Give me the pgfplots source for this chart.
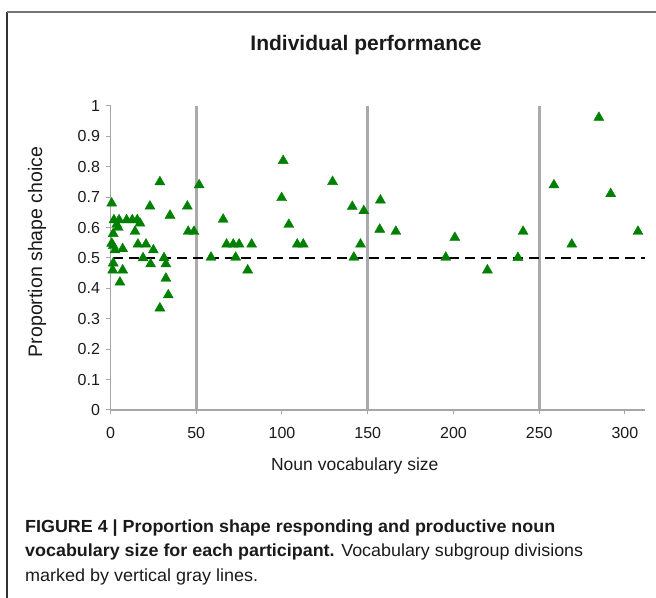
\documentclass[border=0pt]{standalone}
\usepackage{pgfplots}
\pgfplotsset{compat=1.18}
\usepackage{fontspec}
\setmainfont{Liberation Sans}
\usepackage{graphicx}
\definecolor{mkgreen}{HTML}{008000}
\definecolor{axgray}{HTML}{A6A6A6}
\definecolor{vgray}{HTML}{AAAAAA}
\definecolor{txt}{HTML}{1A1A1A}

\pgfplotstableread{
x y
0.7 0.68
1.6 0.58
0.7 0.548
1.6 0.54
2.6 0.526
1.6 0.483
1.3 0.46
5.5 0.42
7.1 0.46
7.1 0.53
2.0 0.625
5.0 0.625
3.6 0.61
4.5 0.60
9.4 0.625
12.7 0.625
15.6 0.625
17.2 0.614
14.3 0.587
16.0 0.545
20.7 0.545
25.0 0.526
19.0 0.50
23.4 0.48
23.0 0.67
28.8 0.75
34.7 0.64
31.2 0.50
32.3 0.48
32.3 0.433
33.7 0.378
28.8 0.335
44.8 0.67
45.3 0.587
48.7 0.587
51.7 0.74
58.6 0.502
65.7 0.627
67.7 0.545
71.6 0.545
75.0 0.545
73.0 0.502
82.3 0.545
80.0 0.46
100.7 0.82
99.8 0.698
104.0 0.61
108.9 0.545
112.4 0.545
129.5 0.751
141.0 0.669
147.7 0.655
145.8 0.545
141.9 0.502
157.4 0.69
157.0 0.594
166.4 0.587
195.5 0.502
200.8 0.567
219.8 0.46
240.6 0.587
237.6 0.501
258.6 0.74
269.0 0.545
284.8 0.962
291.7 0.711
307.6 0.587
}\datatable

\begin{document}
\begin{tikzpicture}
\useasboundingbox (0bp,0bp) rectangle (656bp,598bp);
\draw[line width=1.5bp, color=black!80] (7bp,0bp) -- (7bp,586bp);
\draw[line width=1.2bp, color=black!55] (7bp,586bp) -- (656bp,586bp);
\node[font=\fontsize{21bp}{24bp}\selectfont\bfseries, text=txt] at (366bp,553bp) {Individual performance};
\begin{axis}[
  at={(110.5bp,188bp)}, anchor=south west,
  scale only axis, width=534.5bp, height=304bp,
  xmin=0, xmax=311.7, ymin=0, ymax=1,
  axis x line*=bottom, axis y line*=left,
  axis line style={axgray, line width=1.2bp},
  xtick={0,50,100,150,200,250,300},
  ytick={0,0.1,0.2,0.3,0.4,0.5,0.6,0.7,0.8,0.9,1},
  tick style={axgray, line width=1bp},
  major tick length=4bp, tick align=outside,
  ticklabel style={font=\fontsize{16bp}{19bp}\selectfont, text=txt},
  /pgf/number format/assume math mode=true,
  xticklabel style={yshift=-10bp},
  yticklabel style={xshift=-3bp},
  xlabel={Noun vocabulary size},
  ylabel={Proportion shape choice},
  xlabel style={font=\fontsize{17.5bp}{20bp}\selectfont, text=txt, at={(axis description cs:0.457,-0.184)}, anchor=center},
  ylabel style={font=\fontsize{19.5bp}{22bp}\selectfont, text=txt, at={(axis description cs:-0.1375,0.52)}, anchor=center},
  clip=false,
]
\addplot[vgray, line width=3bp, forget plot] coordinates {(50,0) (50,1)};
\addplot[vgray, line width=3bp, forget plot] coordinates {(150,0) (150,1)};
\addplot[vgray, line width=3bp, forget plot] coordinates {(250,0) (250,1)};
\addplot[black, line width=2.5bp, dash pattern=on 10bp off 6bp, forget plot] coordinates {(1.5,0.5) (311.7,0.5)};
\addplot[only marks, mark=triangle*, mark size=5.8bp, mark options={fill=mkgreen, draw=mkgreen}] table[x=x,y=y] {\datatable};
\end{axis}
\node[anchor=base west, inner sep=0pt, text=txt] at (25bp,65bp) {\resizebox{530bp}{\height}{\fontsize{17.5bp}{20bp}\selectfont\bfseries FIGURE 4 | Proportion shape responding and productive noun}};
\node[anchor=base west, inner sep=0pt, text=txt] at (25bp,41bp) {\resizebox{558bp}{\height}{\fontsize{17.5bp}{20bp}\selectfont\textbf{vocabulary size for each participant.} Vocabulary subgroup divisions}};
\node[anchor=base west, inner sep=0pt, text=txt] at (25bp,17bp) {\resizebox{233bp}{\height}{\fontsize{17.5bp}{20bp}\selectfont marked by vertical gray lines.}};
\end{tikzpicture}
\end{document}
